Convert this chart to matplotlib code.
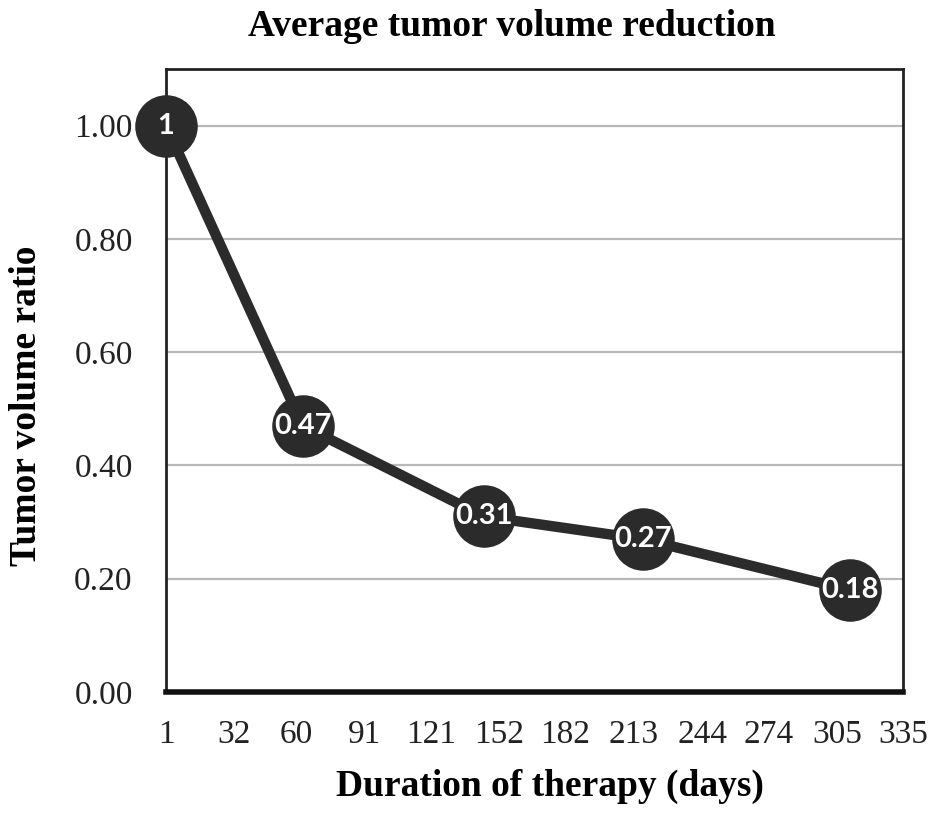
import matplotlib
matplotlib.use("Agg")
import matplotlib.pyplot as plt

# Data
days = [1, 63, 145, 217, 311]
ratios = [1.0, 0.47, 0.31, 0.27, 0.18]
point_labels = ["1", "0.47", "0.31", "0.27", "0.18"]
xtick_values = [1, 32, 60, 91, 121, 152, 182, 213, 244, 274, 305, 335]
ytick_values = [0.0, 0.2, 0.4, 0.6, 0.8, 1.0]

title = "Average tumor volume reduction"
xlabel = "Duration of therapy (days)"
ylabel = "Tumor volume ratio"

serif = ["Liberation Serif", "DejaVu Serif"]
dark = "#2b2b2b"

fig = plt.figure(figsize=(9.45, 8.35), dpi=100)
ax = fig.add_axes([166/945, 1-692/835, (903-166)/945, (692-69)/835])

ax.set_xlim(1, 335)
ax.set_ylim(0, 1.1)

for y in ytick_values[1:]:
    ax.axhline(y, color="#b8b8b8", lw=1.6, zorder=1)

ax.plot(days, ratios, color=dark, lw=7.5, zorder=3, solid_capstyle="round")
ax.plot(days, ratios, linestyle="none", marker="o", markersize=44,
        markerfacecolor=dark, markeredgecolor=dark, zorder=4, clip_on=False)

for x, y, s in zip(days, ratios, point_labels):
    ax.text(x, y, s, ha="center", va="center", color="white", fontsize=21,
            fontweight="bold", family=["Lato", "DejaVu Sans"], zorder=5,
            clip_on=False)

ax.set_xticks(xtick_values)
ax.set_xticklabels([str(v) for v in xtick_values])
ax.set_yticks(ytick_values)
ax.set_yticklabels([f"{v:.2f}" for v in ytick_values])
ax.tick_params(axis="both", length=0, labelsize=24, colors="#222222")
ax.tick_params(axis="x", pad=20)
ax.tick_params(axis="y", pad=24)
for lab in ax.get_xticklabels() + ax.get_yticklabels():
    lab.set_family(serif)

for side in ["top", "right", "left"]:
    ax.spines[side].set_color("#222222")
    ax.spines[side].set_linewidth(2)
ax.spines["bottom"].set_color("#111111")
ax.spines["bottom"].set_linewidth(4)

fig.text(512/945, 1-27/835, title, ha="center", va="center", fontsize=27,
         fontweight="bold", family=serif)
fig.text(550/945, 1-786/835, xlabel, ha="center", va="center", fontsize=27,
         fontweight="bold", family=serif)
fig.text(27/945, 1-406/835, ylabel, ha="center", va="center", fontsize=27,
         fontweight="bold", family=serif, rotation=90)

fig.savefig("out.png", dpi=100)
